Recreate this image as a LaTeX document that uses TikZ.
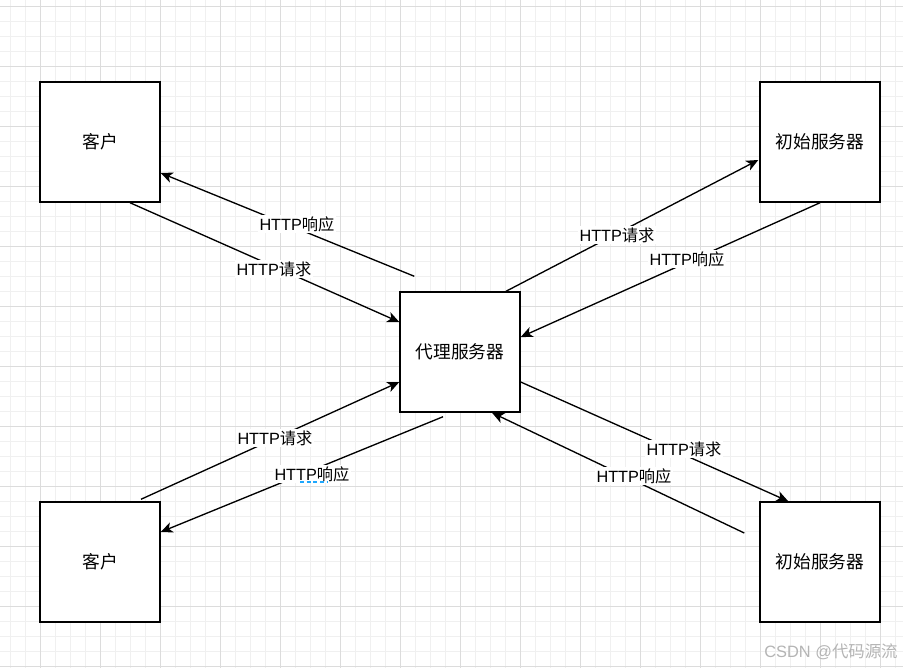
\documentclass[tikz,border=0pt]{standalone}
\usepackage{fontspec}
\setmainfont{Liberation Sans}
\newfontfamily\cjk{Noto Sans CJK SC}
\usetikzlibrary{arrows.meta,calc}
\definecolor{gridmajor}{HTML}{DCDCDC}
\definecolor{gridminor}{HTML}{F0F0F0}
\definecolor{wmgray}{HTML}{B4B4B4}
\definecolor{selblue}{HTML}{1EA7FD}
\tikzset{
  box/.style={draw=black, line width=1.1pt, fill=white, minimum width=90pt, minimum height=90pt, inner sep=0pt, font=\fontsize{13.3}{15}\selectfont\cjk},
  conn/.style={draw=black, line width=1pt, -{Stealth[length=9pt,width=8pt,inset=2.5pt]}},
  lbl/.style={fill=white, inner sep=0.8pt, font=\fontsize{12.2}{14}\selectfont},
}
\begin{document}
\begin{tikzpicture}[x=0.75pt,y=-0.75pt]
\useasboundingbox (0,0) rectangle (903,668);
\fill[white] (0,0) rectangle (903,668);
% grid
\foreach \gx in {10,25,...,900} \draw[gridminor, line width=0.75pt] (\gx,0) -- (\gx,668);
\foreach \gy in {6,21,...,668} \draw[gridminor, line width=0.75pt] (0,\gy) -- (903,\gy);
\foreach \gx in {40,100,...,900} \draw[gridmajor, line width=0.75pt] (\gx,0) -- (\gx,668);
\foreach \gy in {6,66,...,668} \draw[gridmajor, line width=0.75pt] (0,\gy) -- (903,\gy);

% boxes
\node[box] (c1) at (100,142) {客户};
\node[box] (o1) at (820,142) {初始服务器};
\node[box] (p)  at (460,352) {代理服务器};
\node[box] (c2) at (100,562) {客户};
\node[box] (o2) at (820,562) {初始服务器};

% connectors
\draw[conn] ($(p.north west)+(15,-15)$) -- ($(c1.east)+(0,31)$);
\draw[conn] ($(c1.south)+(30,0)$) -- ($(p.west)+(0,-30)$);
\draw[conn] ($(p.north)+(46,0)$) -- ($(o1.west)+(-1,18)$);
\draw[conn] (o1.south) -- ($(p.east)+(0,-15)$);
\draw[conn] ($(c2.north)+(41,-2)$) -- ($(p.west)+(0,30)$);
\draw[conn] ($(p.south)+(-17,4)$) -- ($(c2.east)+(0,-30)$);
\draw[conn] ($(p.east)+(0,30)$) -- ($(o2.north west)+(29,0)$);
\draw[conn] ($(o2.west)+(-15,-29)$) -- ($(p.south)+(32,0)$);

% labels
\node[lbl] (l1) at (297,224) {HTTP{\cjk 响应}};
\node[lbl] (l2) at (274,269) {HTTP{\cjk 请求}};
\node[lbl] (l3) at (617,235) {HTTP{\cjk 请求}};
\node[lbl] (l4) at (687,259) {HTTP{\cjk 响应}};
\node[lbl] (l5) at (275,438) {HTTP{\cjk 请求}};
\node[lbl] (l6) at (312,474) {HTTP{\cjk 响应}};
\node[lbl] (l7) at (684,449) {HTTP{\cjk 请求}};
\node[lbl] (l8) at (634,476) {HTTP{\cjk 响应}};

% small selection mark under label
\draw[selblue, line width=1.2pt, dash pattern=on 3pt off 2pt] ($(l6.south)+(-12,-1)$) coordinate (s1) -- ($(l6.south)+(15,-1)$) coordinate (s2);

% watermark
\node[text=wmgray, font=\fontsize{12.3}{14}\selectfont, inner sep=0pt] (wm) at (831,652) {CSDN @{\cjk 代码源流}};
\end{tikzpicture}
\end{document}
